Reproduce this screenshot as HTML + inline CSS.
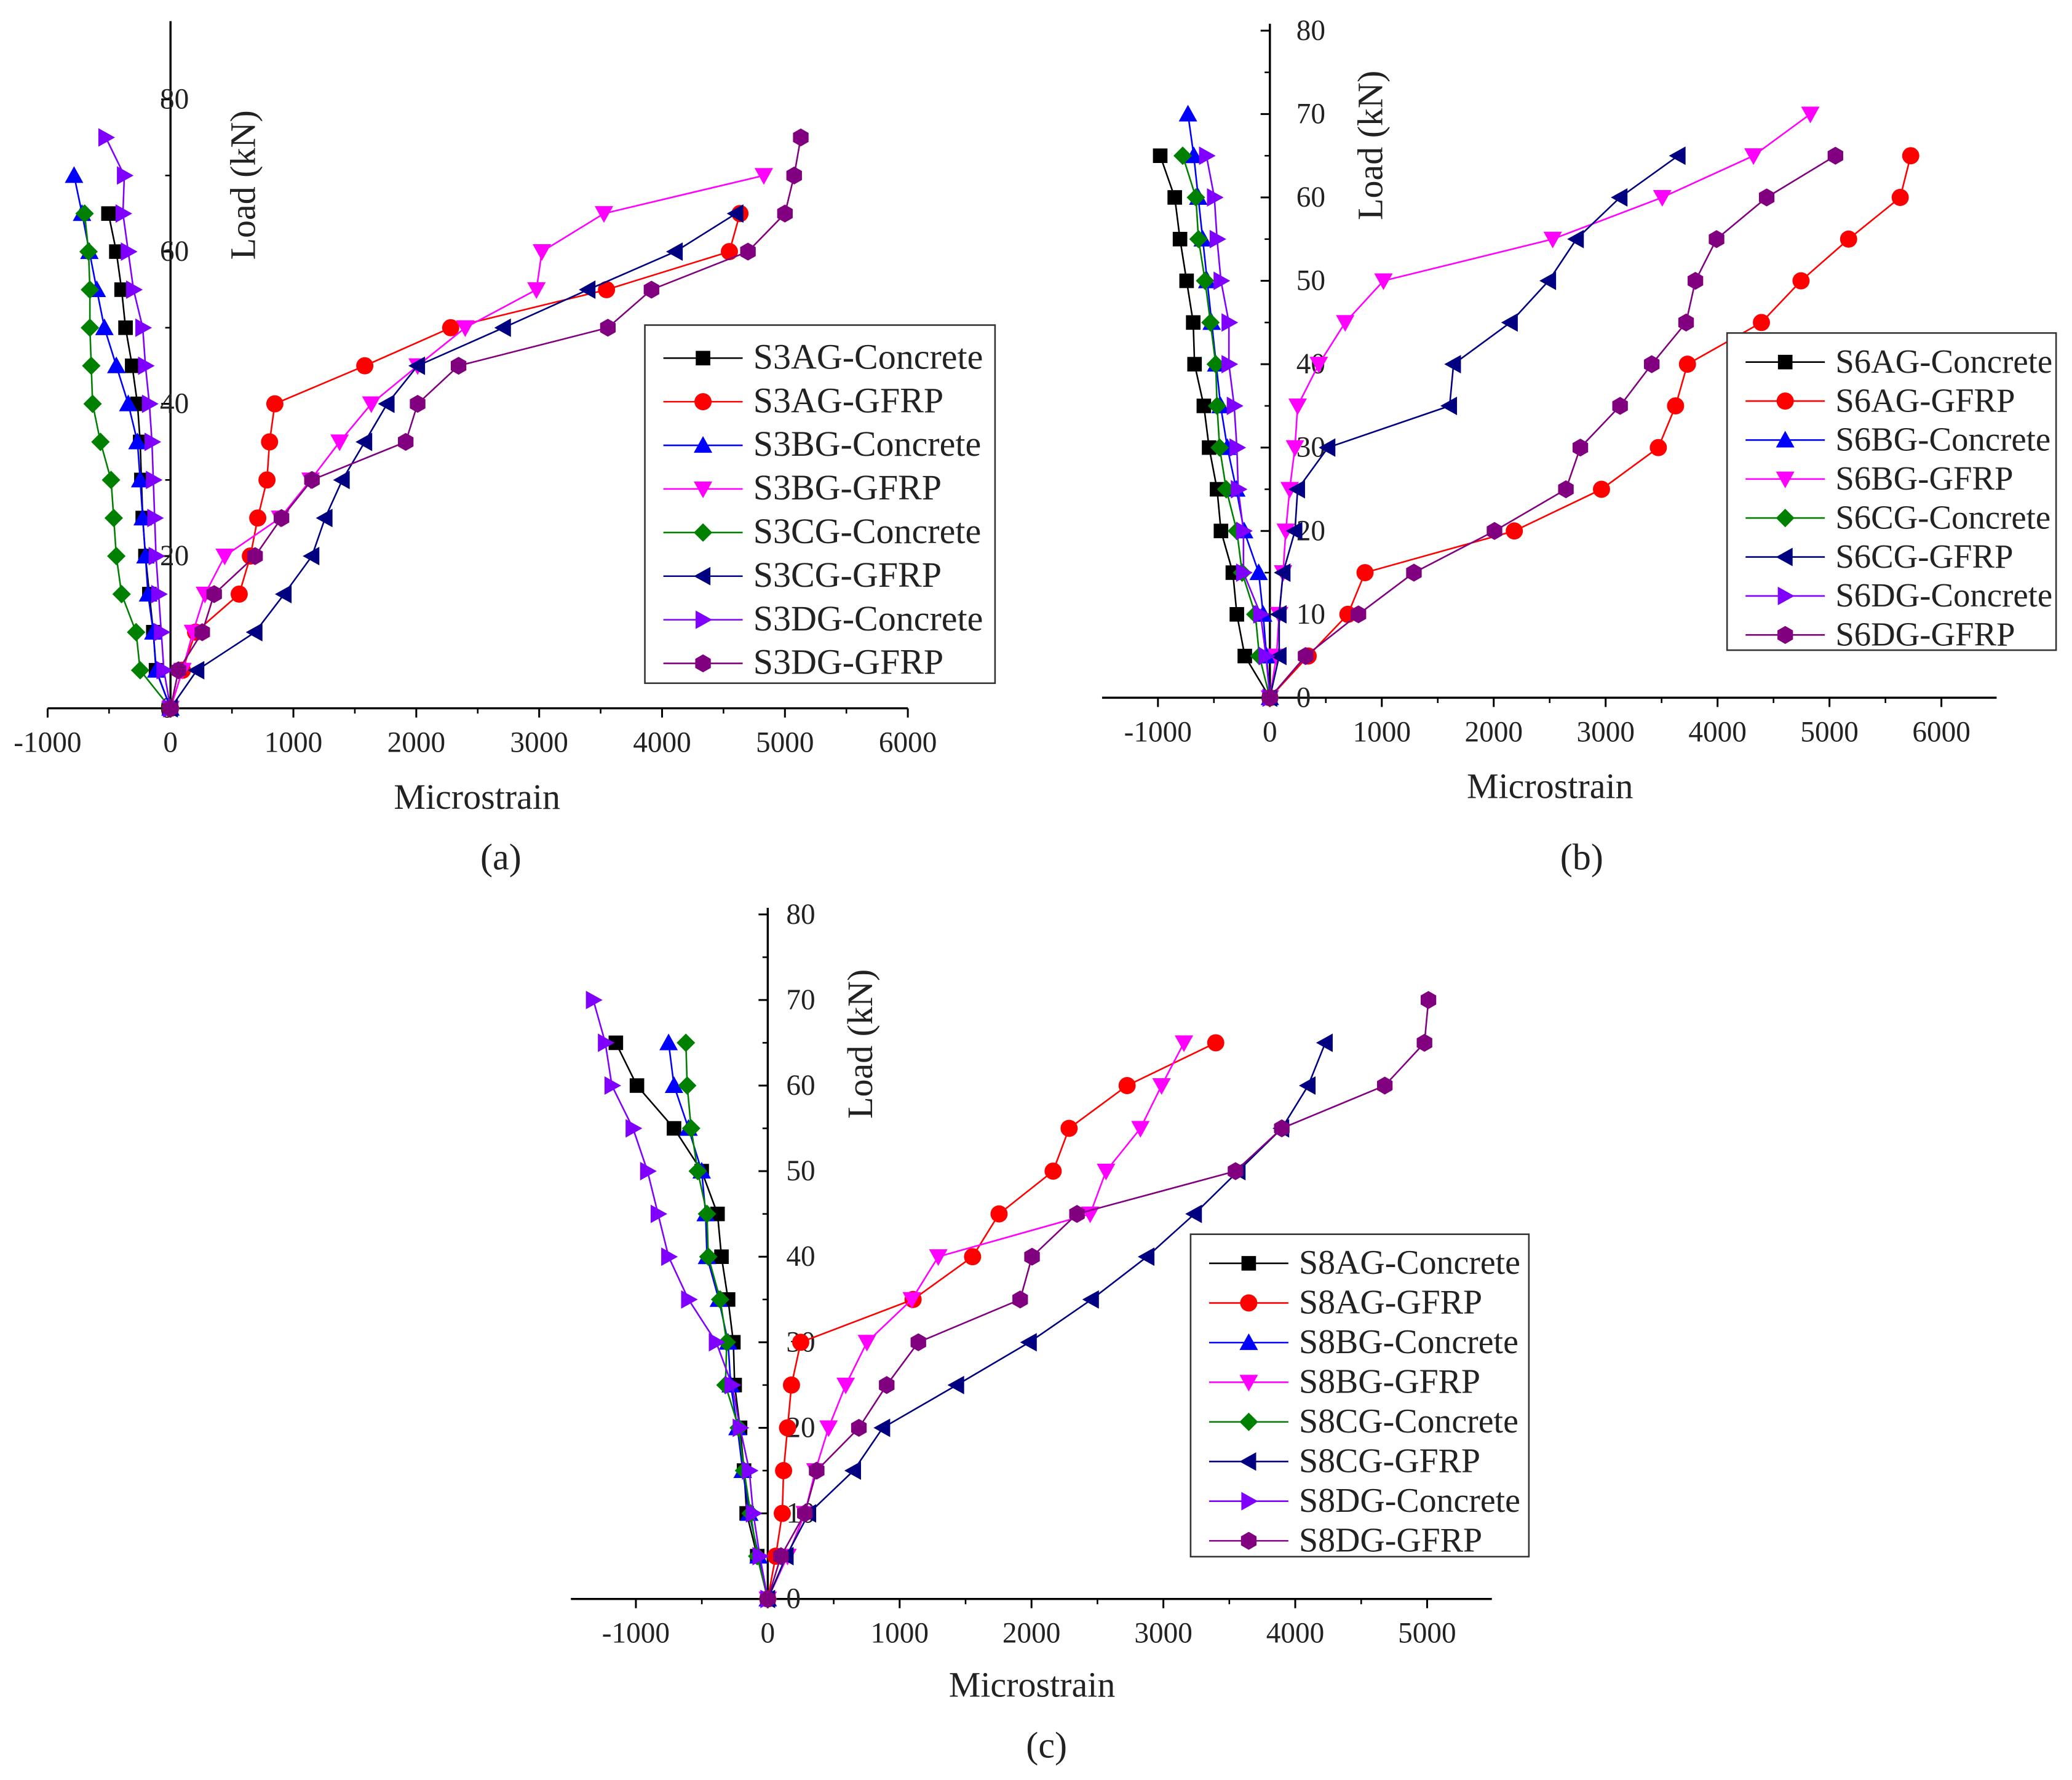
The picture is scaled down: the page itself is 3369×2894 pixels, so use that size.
<!DOCTYPE html>
<html><head><meta charset="utf-8"><style>
html,body{margin:0;padding:0;background:#fff}
svg{display:block}
text{font-family:"Liberation Serif",serif;fill:#222}
</style></head><body>
<svg id="chart" xmlns="http://www.w3.org/2000/svg" width="3369" height="2894" viewBox="0 0 1568 1347"></svg>
<script>
// Load levels (kN)
const loadsA = [0,5,10,15,20,25,30,35,40,45,50,55,60,65,70,75];
// Panel (a) microstrain series (index = load step)
const s3agConc = [0,-118,-140,-172,-204,-226,-237,-247,-269,-312,-366,-398,-441,-505];
const s3agGfrp = [0,97,204,559,650,710,785,806,849,1581,2280,3548,4548,4634];
const s3bgConc = [0,-116,-140,-183,-204,-226,-247,-269,-344,-441,-538,-600,-660,-720,-785];
const s3bgGfrp = [0,97,183,280,441,892,1140,1376,1634,2011,2398,2978,3022,3527,4828];
const s3cgConc = [0,-247,-280,-398,-441,-462,-484,-570,-634,-645,-656,-656,-667,-699];
const s3cgGfrp = [0,215,688,925,1151,1258,1398,1581,1763,2011,2710,3398,4108,4602];
const s3dgConc = [0,-54,-75,-97,-118,-129,-140,-151,-172,-204,-226,-301,-344,-387,-376,-527];
const s3dgGfrp = [0,65,258,355,688,903,1151,1914,2011,2344,3559,3914,4699,5000,5075,5129];
// Panel (b)
const s6agConc = [0,-224,-295,-331,-437,-472,-543,-590,-673,-685,-744,-803,-850,-980];
const s6agGfrp = [0,342,697,850,2184,2963,3471,3625,3731,4392,4746,5171,5632,5726];
const s6bgConc = [0,-30,-60,-100,-230,-300,-380,-440,-480,-520,-560,-600,-640,-680,-732];
const s6bgGfrp = [0,59,83,118,142,177,224,248,437,673,1015,2527,3506,4321,4829];
const s6cgConc = [0,-94,-130,-248,-295,-390,-449,-472,-484,-531,-579,-638,-661,-779];
const s6cgGfrp = [0,83,83,118,224,248,519,1606,1641,2149,2491,2739,3129,3648];
const s6dgConc = [0,-35,-83,-236,-236,-283,-295,-319,-366,-366,-437,-472,-496,-567];
const s6dgGfrp = [0,319,791,1287,2007,2645,2774,3129,3412,3719,3802,3991,4439,5053];
// Panel (c)
const s8agConc = [0,-80,-160,-180,-210,-251,-261,-301,-351,-381,-501,-711,-992,-1152];
const s8agGfrp = [0,60,110,120,150,180,250,1102,1553,1754,2164,2285,2725,3397];
const s8bgConc = [0,-70,-140,-190,-230,-281,-301,-371,-461,-471,-501,-601,-711,-752];
const s8bgGfrp = [0,150,281,361,461,591,752,1092,1293,2445,2565,2826,2986,3156];
const s8cgConc = [0,-80,-130,-180,-220,-321,-311,-361,-451,-461,-531,-581,-611,-621];
const s8cgGfrp = [0,140,311,651,872,1433,1984,2455,2876,3236,3567,3898,4098,4228];
const s8dgConc = [0,-60,-110,-140,-210,-271,-391,-601,-752,-832,-912,-1022,-1182,-1232,-1323];
const s8dgGfrp = [0,100,281,371,691,902,1142,1914,2004,2345,3547,3898,4679,4980,5010];

const xTicksA = [-1000,0,1000,2000,3000,4000,5000,6000];
const xTicksC = [-1000,0,1000,2000,3000,4000,5000];
const yTicksA = [0,20,40,60,80];
const yTicksB = [0,10,20,30,40,50,60,70,80];

const NS="http://www.w3.org/2000/svg";
const svg=document.getElementById('chart');
function mk(tag,attrs,parent){const e=document.createElementNS(NS,tag);for(const k in attrs)e.setAttribute(k,attrs[k]);(parent||svg).appendChild(e);return e;}

const styles=[
 {c:'#000000',m:'square'},{c:'#ff0000',m:'circle'},{c:'#0000ff',m:'up'},{c:'#ff00ff',m:'down'},
 {c:'#008000',m:'diamond'},{c:'#000080',m:'left'},{c:'#8000ff',m:'right'},{c:'#800080',m:'hex'}];

function marker(g,type,x,y,col){
  const s=7;let e;
  if(type==='square'){e=mk('rect',{x:x-5.5,y:y-5.5,width:11,height:11,fill:col},g);}
  else if(type==='circle'){e=mk('circle',{cx:x,cy:y,r:6.5,fill:col},g);}
  else{
    let p;
    if(type==='up')p=[[x,y-s],[x+s,y+s*0.8],[x-s,y+s*0.8]];
    else if(type==='down')p=[[x,y+s],[x+s,y-s*0.8],[x-s,y-s*0.8]];
    else if(type==='left')p=[[x-s,y],[x+s*0.8,y-s],[x+s*0.8,y+s]];
    else if(type==='right')p=[[x+s,y],[x-s*0.8,y-s],[x-s*0.8,y+s]];
    else if(type==='diamond')p=[[x,y-s],[x+s,y],[x,y+s],[x-s,y]];
    else {p=[];for(let i=0;i<6;i++){const a=Math.PI/6+i*Math.PI/3;p.push([x+6.8*Math.cos(a),y+6.8*Math.sin(a)]);}}
    e=mk('polygon',{points:p.map(q=>q.join(',')).join(' '),fill:col},g);
  }
  
  
}

function panel(cfg){
  const g=mk('g',{});
  
  
  const sx=v=>cfg.x0+v/1000*cfg.kx;
  const sy=v=>cfg.y0-v*cfg.ky;
  const xa=mk('line',{x1:cfg.xl,x2:cfg.xr,y1:cfg.y0,y2:cfg.y0,stroke:'#000','stroke-width':1.6},g);
  
  const ya=mk('line',{x1:cfg.x0,x2:cfg.x0,y1:cfg.yt,y2:cfg.y0,stroke:'#000','stroke-width':1.6},g);
  
  cfg.xticks.forEach(t=>{
    mk('line',{x1:sx(t),x2:sx(t),y1:cfg.y0,y2:cfg.y0+7,stroke:'#000','stroke-width':1.4},g);
    if(sx(t+500)<cfg.xr)mk('line',{x1:sx(t+500),x2:sx(t+500),y1:cfg.y0,y2:cfg.y0+4,stroke:'#000','stroke-width':1.2},g);
    const tx=mk('text',{x:sx(t),y:cfg.y0+33,'text-anchor':'middle','font-size':22},g);tx.textContent=t;
    
  });
  const st=cfg.yticks[1]-cfg.yticks[0];
  cfg.yticks.forEach(t=>{
    mk('line',{x1:cfg.x0-7,x2:cfg.x0,y1:sy(t),y2:sy(t),stroke:'#000','stroke-width':1.4},g);
    if(t<80)mk('line',{x1:cfg.x0-4,x2:cfg.x0,y1:sy(t+st/2),y2:sy(t+st/2),stroke:'#000','stroke-width':1.2},g);
    const tx=mk('text',{x:cfg.x0+cfg.ylo,y:sy(t)+7,'text-anchor':'start','font-size':22},g);tx.textContent=t;
    
  });
  const xt=mk('text',{x:cfg.xlab[0],y:cfg.xlab[1],'text-anchor':'middle','font-size':27},g);xt.textContent='Microstrain';
  
  const yt=mk('text',{x:0,y:0,'text-anchor':'middle','font-size':27,transform:`translate(${cfg.ylab[0]},${cfg.ylab[1]}) rotate(-90)`},g);yt.textContent='Load (kN)';
  
  const cap=mk('text',{x:cfg.cap[0],y:cfg.cap[1],'text-anchor':'middle','font-size':28},g);cap.textContent='('+cfg.id+')';
  
  cfg.series.forEach((s,i)=>{
    const st=styles[i];
    const sg=mk('g',{},g);
    
    
    const pts=s.map((v,j)=>[sx(v),sy(loadsA[j])]);
    mk('polyline',{points:pts.map(p=>p.join(',')).join(' '),fill:'none',stroke:st.c,'stroke-width':1.2},sg);
    pts.forEach(p=>marker(sg,st.m,p[0],p[1],st.c));
  });
  const L=cfg.leg;
  const lg=mk('g',{},g);
  
  mk('rect',{x:L.x,y:L.y,width:L.w,height:L.h,fill:'#fff',stroke:'#333','stroke-width':1.2},lg);
  cfg.names.forEach((n,i)=>{
    const y=L.y+L.top+i*L.dy;
    const eg=mk('g',{},lg);
    
    mk('line',{x1:L.x+14,x2:L.x+74,y1:y,y2:y,stroke:styles[i].c,'stroke-width':1.2},eg);
    marker(eg,styles[i].m,L.x+44,y,styles[i].c);
    const t=mk('text',{x:L.x+82,y:y+8,'font-size':L.fs},eg);t.textContent=n;
  });
}

panel({id:'a',x0:129,y0:536,kx:93,ky:5.76,xl:36,xr:687,yt:16,ylo:-8,xticks:xTicksA,yticks:yTicksA,
  xlab:[361,612],ylab:[193,140],cap:[379,658],
  series:[s3agConc,s3agGfrp,s3bgConc,s3bgGfrp,s3cgConc,s3cgGfrp,s3dgConc,s3dgGfrp],
  names:['S3AG-Concrete','S3AG-GFRP','S3BG-Concrete','S3BG-GFRP','S3CG-Concrete','S3CG-GFRP','S3DG-Concrete','S3DG-GFRP'],
  leg:{x:488,y:246,w:265,h:271,top:25,dy:33,fs:27}});
panel({id:'b',x0:961,y0:528,kx:84.7,ky:6.31,xl:834,xr:1511,yt:18,ylo:20,xticks:xTicksA,yticks:yTicksB,
  xlab:[1173,604],ylab:[1046,110],cap:[1197,658],
  series:[s6agConc,s6agGfrp,s6bgConc,s6bgGfrp,s6cgConc,s6cgGfrp,s6dgConc,s6dgGfrp],
  names:['S6AG-Concrete','S6AG-GFRP','S6BG-Concrete','S6BG-GFRP','S6CG-Concrete','S6CG-GFRP','S6DG-Concrete','S6DG-GFRP'],
  leg:{x:1307,y:252,w:249,h:240,top:22,dy:29.5,fs:25.5}});
panel({id:'c',x0:581,y0:1210,kx:99.8,ky:6.475,xl:432,xr:1129,yt:687,ylo:14,xticks:xTicksC,yticks:yTicksB,
  xlab:[781,1284],ylab:[660,790],cap:[792,1330],
  series:[s8agConc,s8agGfrp,s8bgConc,s8bgGfrp,s8cgConc,s8cgGfrp,s8dgConc,s8dgGfrp],
  names:['S8AG-Concrete','S8AG-GFRP','S8BG-Concrete','S8BG-GFRP','S8CG-Concrete','S8CG-GFRP','S8DG-Concrete','S8DG-GFRP'],
  leg:{x:901,y:934,w:256,h:244,top:22,dy:30,fs:26}});
</script>
</body></html>
